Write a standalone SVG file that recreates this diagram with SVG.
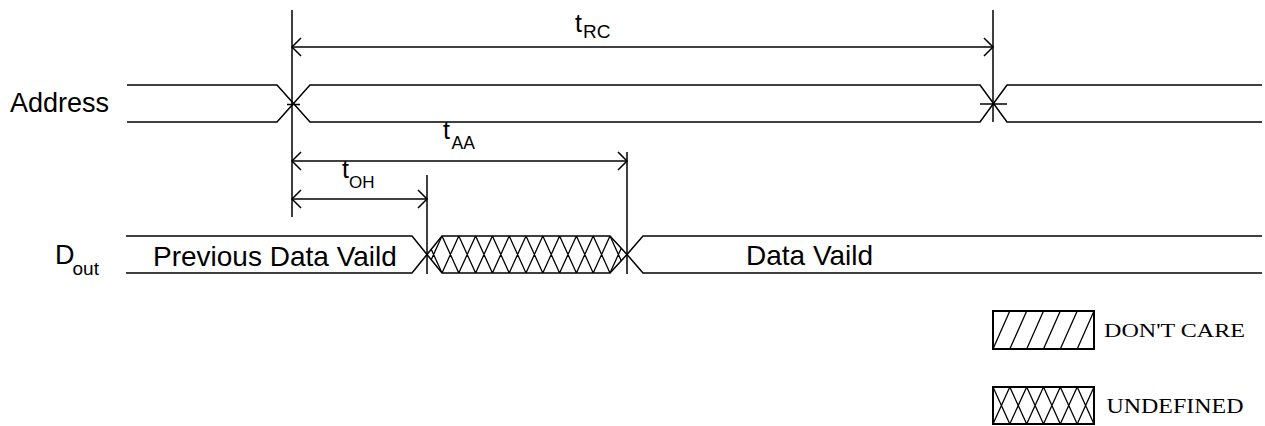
<svg xmlns="http://www.w3.org/2000/svg" width="1265" height="426" viewBox="0 0 1265 426">
<style>
.ln{fill:none;stroke:#000;stroke-width:1.5}
.thin{fill:none;stroke:#000;stroke-width:1.3}
.box{fill:none;stroke:#000;stroke-width:2}
.lbl{font-family:"Liberation Sans",Arial,sans-serif;fill:#000}
.lg{font-family:"Liberation Serif","Times New Roman",serif;fill:#000}
</style>
<defs>
<marker id="arr" viewBox="0 -10 12 20" refX="10" refY="0" markerUnits="userSpaceOnUse" markerWidth="12" markerHeight="20" orient="auto-start-reverse">
<path d="M1,-9 L10,0 L1,9" fill="none" stroke="#000" stroke-width="1.5"/>
</marker>
<clipPath id="hexclip">
<path d="M427,254.5 L442,236 L610,236 L627,254.5 L610,273 L442,273 Z"/>
</clipPath>
</defs>
<rect width="1265" height="426" fill="#fff"/>

<g id="address-label">
<text class="lbl" x="10" y="112" font-size="27">Address</text>
</g>
<g id="dout-label">
<text class="lbl" x="55" y="264" font-size="27">D</text>
<text class="lbl" x="72.5" y="275" font-size="19">out</text>
</g>

<g id="address-signal">
<path class="ln" d="M127,85 L277,85 L310,122 L980,122 L1007,85 L1262,85"/>
<path class="ln" d="M127,122 L277,122 L310,85 L980,85 L1007,122 L1262,122"/>
<path class="ln" d="M287,104.5 L300,104.5 M980,104 L1007,104"/>
</g>

<g id="dout-previous">
<path class="ln" d="M126,236 L412,236 L427,254.5 L412,273 L126,273"/>
<text class="lbl" x="153" y="266" font-size="28">Previous Data Vaild</text>
</g>

<g id="dout-undefined">
<g clip-path="url(#hexclip)">
<path class="thin" d="M425.2,236 L442,273 M442,236 L425.2,273 M442,236 L458.8,273 M458.8,236 L442,273 M458.8,236 L475.6,273 M475.6,236 L458.8,273 M475.6,236 L492.4,273 M492.4,236 L475.6,273 M492.4,236 L509.2,273 M509.2,236 L492.4,273 M509.2,236 L526,273 M526,236 L509.2,273 M526,236 L542.8,273 M542.8,236 L526,273 M542.8,236 L559.6,273 M559.6,236 L542.8,273 M559.6,236 L576.4,273 M576.4,236 L559.6,273 M576.4,236 L593.2,273 M593.2,236 L576.4,273 M593.2,236 L610,273 M610,236 L593.2,273 M610,236 L626.8,273 M626.8,236 L610,273"/>
</g>
<path class="ln" d="M427,254.5 L442,236 L610,236 L627,254.5 L610,273 L442,273 Z"/>
</g>

<g id="dout-valid">
<path class="ln" d="M627,254.5 L643,236 L1262,236 M627,254.5 L643,273 L1262,273"/>
<text class="lbl" x="746" y="265" font-size="28">Data Vaild</text>
</g>

<g id="connectors">
<path class="ln" d="M292,10 L292,217"/>
<path class="ln" d="M993,10 L993,122"/>
<path class="ln" d="M627,152 L627,274"/>
<path class="ln" d="M427,175 L427,274"/>
<line class="ln" x1="292" y1="47" x2="993" y2="47" marker-start="url(#arr)" marker-end="url(#arr)"/>
<line class="ln" x1="292" y1="161" x2="627" y2="161" marker-start="url(#arr)" marker-end="url(#arr)"/>
<line class="ln" x1="292" y1="199" x2="427" y2="199" marker-start="url(#arr)" marker-end="url(#arr)"/>
</g>

<g id="label-trc">
<text class="lbl" x="575" y="32" font-size="25">t</text>
<text class="lbl" x="583" y="37.5" font-size="19">RC</text>
</g>
<g id="label-taa">
<text class="lbl" x="443" y="139" font-size="25">t</text>
<text class="lbl" x="451.5" y="149" font-size="17.5">AA</text>
</g>
<g id="label-toh">
<text class="lbl" x="342" y="178" font-size="25">t</text>
<text class="lbl" x="349" y="188" font-size="17">OH</text>
</g>

<g id="legend-dontcare">
<rect class="box" x="993" y="311" width="101" height="38"/>
<path class="thin" d="M993,349 L1009.8,311 M1009.8,349 L1026.7,311 M1026.7,349 L1043.5,311 M1043.5,349 L1060.3,311 M1060.3,349 L1077.2,311 M1077.2,349 L1094,311"/>
<text class="lg" x="1104" y="337" font-size="19.5" textLength="141" lengthAdjust="spacingAndGlyphs">DON'T CARE</text>
</g>
<g id="legend-undefined">
<rect class="box" x="993" y="387" width="101" height="37"/>
<path class="thin" d="M993,387 L1009.8,424 M1009.8,387 L993,424 M1009.8,387 L1026.7,424 M1026.7,387 L1009.8,424 M1026.7,387 L1043.5,424 M1043.5,387 L1026.7,424 M1043.5,387 L1060.3,424 M1060.3,387 L1043.5,424 M1060.3,387 L1077.2,424 M1077.2,387 L1060.3,424 M1077.2,387 L1094,424 M1094,387 L1077.2,424"/>
<text class="lg" x="1106.5" y="413" font-size="20" textLength="137" lengthAdjust="spacingAndGlyphs">UNDEFINED</text>
</g>
</svg>
